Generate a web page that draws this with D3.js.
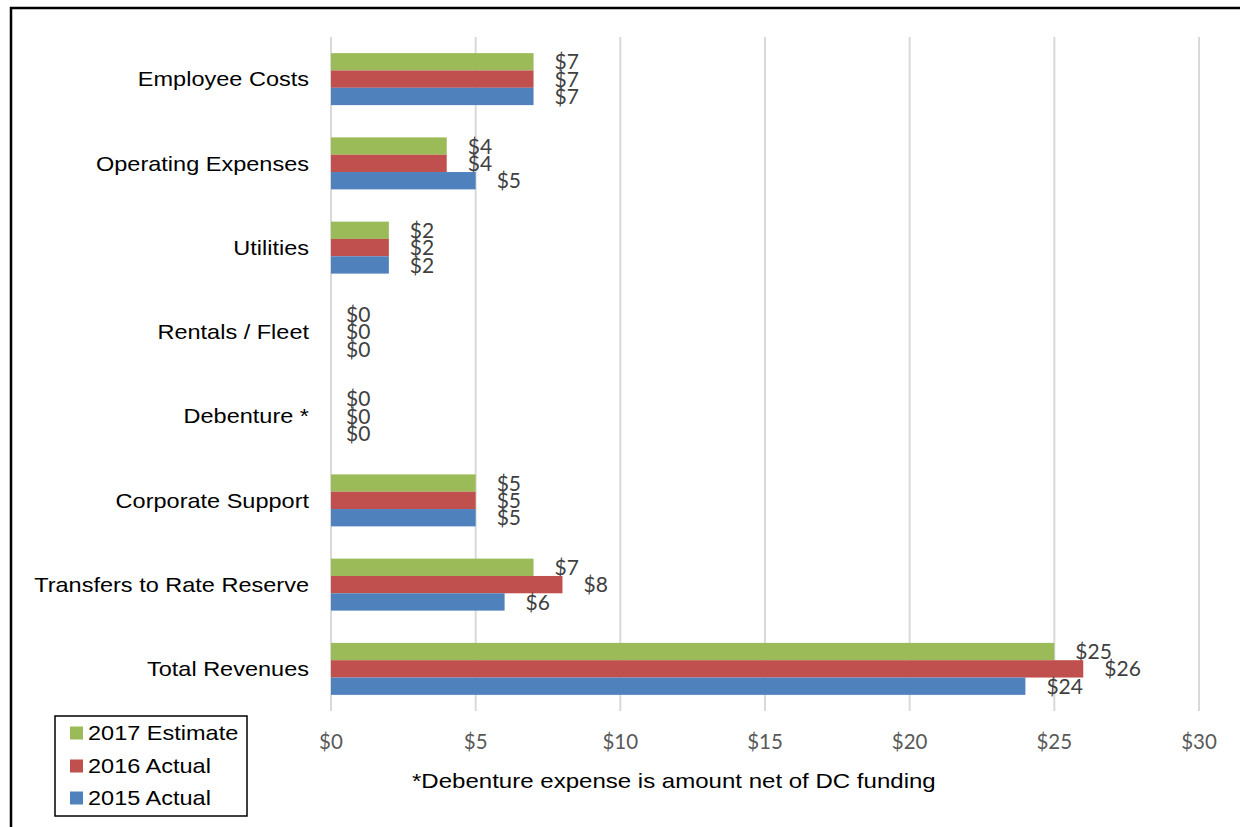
<!DOCTYPE html>
<html>
<head>
<meta charset="utf-8">
<script src="https://cdn.jsdelivr.net/npm/d3@7"></script>
<style>
  html, body { margin: 0; padding: 0; background: #fff; }
  svg { display: block; }
</style>
</head>
<body>
<svg id="chart" width="1240" height="827"></svg>
<script>
// ---- data ----
const categories = ["Employee Costs", "Operating Expenses", "Utilities", "Rentals / Fleet",
                    "Debenture *", "Corporate Support", "Transfers to Rate Reserve", "Total Revenues"];
const seriesNames = ["2017 Estimate", "2016 Actual", "2015 Actual"];
const est2017 = [7, 4, 2, 0, 0, 5, 7, 25];
const act2016 = [7, 4, 2, 0, 0, 5, 8, 26];
const act2015 = [7, 5, 2, 0, 0, 5, 6, 24];
const seriesValues = [est2017, act2016, act2015];
const seriesColors = ["#9bbb59", "#c0504d", "#4f81bd"];
const xTicks = [0, 5, 10, 15, 20, 25, 30];
const footnote = "*Debenture expense is amount net of DC funding";

// ---- layout ----
const svg = d3.select("#chart");
const plot = { left: 331, right: 1199, top: 37, bottom: 711 };
const SX = 1.12; // horizontal stretch of the reference's text

const x = d3.scaleLinear().domain([0, 30]).range([plot.left, plot.right]);
const y = d3.scaleBand().domain(categories).range([plot.top, plot.bottom])
  .paddingInner(0.383).paddingOuter(0.1915);
const ys = d3.scaleBand().domain(seriesNames).range([0, y.bandwidth()]);

// outer border (top & left visible)
svg.append("rect").attr("x", 11).attr("y", 8).attr("width", 1260).attr("height", 850)
  .attr("fill", "none").attr("stroke", "#000").attr("stroke-width", 2.5);

// gridlines
svg.append("g").selectAll("line").data(xTicks).join("line")
  .attr("x1", d => x(d)).attr("x2", d => x(d))
  .attr("y1", plot.top).attr("y2", plot.bottom)
  .attr("stroke", "#d9d9d9").attr("stroke-width", 2);

// x tick labels
svg.append("g").selectAll("text").data(xTicks).join("text")
  .attr("x", d => x(d)).attr("y", 749)
  .attr("text-anchor", "middle")
  .attr("font-family", "Lato, 'Open Sans', sans-serif")
  .attr("font-size", 20.5).attr("fill", "#595959")
  .text(d => "$" + d);

// category labels
svg.append("g").selectAll("text").data(categories).join("text")
  .attr("transform", d => `translate(309,${y(d) + y.bandwidth() / 2}) scale(${SX},1)`)
  .attr("dy", "0.35em")
  .attr("text-anchor", "end")
  .attr("font-family", "'Liberation Sans', Arial, sans-serif")
  .attr("font-size", 21).attr("fill", "#000")
  .text(d => d);

// bars
seriesNames.forEach((s, si) => {
  const g = svg.append("g");
  const vals = seriesValues[si];
  g.selectAll("rect").data(categories).join("rect")
    .attr("x", x(0))
    .attr("y", (c) => y(c) + ys(s))
    .attr("width", (c, i) => x(vals[i]) - x(0))
    .attr("height", ys.bandwidth())
    .attr("fill", seriesColors[si]);
  g.selectAll("text").data(categories).join("text")
    .attr("x", (c, i) => x(vals[i]) + (vals[i] === 0 ? 15 : 21))
    .attr("y", (c) => y(c) + ys(s) + ys.bandwidth() / 2)
    .attr("dy", "0.36em")
    .attr("font-family", "Lato, 'Open Sans', sans-serif")
    .attr("font-size", 21).attr("fill", "#404040")
    .text((c, i) => "$" + vals[i]);
});

// legend
const lg = svg.append("g");
lg.append("rect").attr("x", 55).attr("y", 716).attr("width", 192).attr("height", 100)
  .attr("fill", "#fff").attr("stroke", "#000").attr("stroke-width", 1.5);
const rowY = [733, 766, 798];
seriesNames.forEach((s, i) => {
  lg.append("rect").attr("x", 70).attr("y", rowY[i] - 6.5).attr("width", 13).attr("height", 13)
    .attr("fill", seriesColors[i]);
  lg.append("text")
    .attr("transform", `translate(88,${rowY[i]}) scale(${SX},1)`)
    .attr("dy", "0.35em")
    .attr("font-family", "'Liberation Sans', Arial, sans-serif")
    .attr("font-size", 21).attr("fill", "#000")
    .text(s);
});

// footnote
svg.append("text")
  .attr("transform", `translate(412,781) scale(1.145,1)`)
  .attr("dy", "0.35em")
  .attr("font-family", "'Liberation Sans', Arial, sans-serif")
  .attr("font-size", 21).attr("fill", "#000")
  .text(footnote);
</script>
</body>
</html>
